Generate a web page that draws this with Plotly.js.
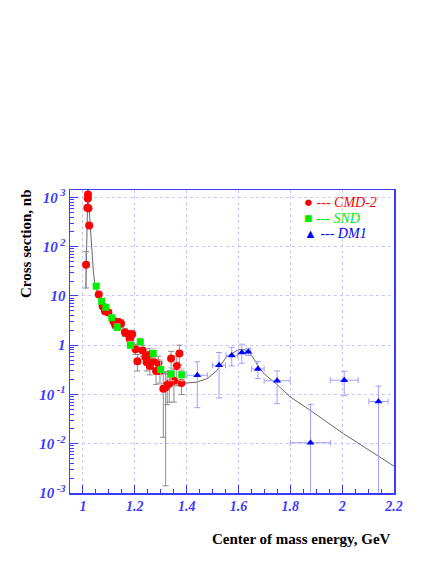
<!DOCTYPE html>
<html>
<head>
<meta charset="utf-8">
<script src="https://cdn.plot.ly/plotly-3.0.1.min.js"></script>
<style>
body {margin: 0; background: white;}
#graph {width: 436px; height: 564px;}
</style>
</head>
<body>
<div id="graph"></div>
<script>
// CMD-2 points (energy GeV, cross section nb, error bar ends)
var cmdX  = [1.012, 1.017, 1.019, 1.0195, 1.021, 1.024, 1.061, 1.076, 1.085, 1.098, 1.117, 1.124, 1.130, 1.136, 1.147,
             1.162, 1.175, 1.190, 1.181, 1.203, 1.210, 1.230, 1.241, 1.246, 1.256, 1.258, 1.271, 1.282, 1.291, 1.297,
             1.310, 1.319, 1.325, 1.333, 1.340, 1.351, 1.362, 1.372, 1.380];
var cmdY  = [43, 617, 955, 1150, 600, 270, 10.7, 6.2, 4.9, 4.6, 3.1, 2.6, 2.9, 2.95, 2.75,
             1.8, 1.66, 1.66, 1.32, 0.83, 0.47, 0.78, 0.57, 0.45, 0.63, 0.38, 0.47, 0.30, 0.43, 0.30,
             0.13, 0.14, 0.155, 0.165, 0.54, 0.19, 0.38, 0.68, 0.17];
var cmdHi = [79, 680, 1010, 1220, 650, 300, 12, 7, 5.6, 5.3, 3.6, 3.1, 3.4, 3.5, 3.3,
             2.2, 2.0, 2.0, 1.6, 1.05, 0.65, 1.0, 0.75, 0.6, 0.85, 0.55, 0.65, 0.45, 0.6, 0.45,
             0.26, 0.27, 0.29, 0.3, 0.75, 0.33, 0.6, 1.0, 0.3];
var cmdLo = [14.5, 560, 900, 1080, 560, 245, 9.5, 5.5, 4.3, 4.0, 2.7, 2.2, 2.4, 2.5, 2.3,
             1.5, 1.35, 1.35, 1.1, 0.65, 0.3, 0.6, 0.42, 0.3, 0.45, 0.25, 0.32, 0.16, 0.28, 0.17,
             0.0135, 0.0014, 0.062, 0.07, 0.25, 0.07, 0.15, 0.4, 0.1];

// SND points
var sndX  = [1.051, 1.072, 1.088, 1.111, 1.132, 1.183, 1.221, 1.271, 1.300, 1.340, 1.381];
var sndY  = [15.8, 7.8, 5.9, 3.6, 2.3, 1.0, 1.17, 0.68, 0.32, 0.26, 0.25];
var sndHi = [18, 8.7, 6.6, 4.1, 2.7, 1.2, 1.4, 0.85, 0.5, 0.35, 0.33];
var sndLo = [14, 7, 5.3, 3.2, 2.0, 0.85, 1.0, 0.55, 0.16, 0.19, 0.19];

// DM1 points
var dmX   = [1.441, 1.525, 1.574, 1.613, 1.638, 1.675, 1.749, 1.878, 2.008, 2.140];
var dmXe  = [0.04, 0.025, 0.022, 0.013, 0.009, 0.024, 0.05, 0.078, 0.054, 0.037];
var dmY   = [0.245, 0.39, 0.62, 0.71, 0.74, 0.33, 0.19, 0.0105, 0.195, 0.072];
var dmHi  = [0.46, 0.71, 0.91, 1.05, 0.87, 0.47, 0.30, 0.063, 0.295, 0.148];
var dmLo  = [0.054, 0.085, 0.38, 0.43, 0.62, 0.21, 0.065, 0.0003, 0.095, 0.0003];

// fit curve
var fitX = [1.011, 1.019, 1.028, 1.034, 1.040, 1.046, 1.06, 1.08, 1.10, 1.13, 1.16, 1.20, 1.23, 1.26, 1.30,
            1.35, 1.395, 1.44, 1.48, 1.515, 1.555, 1.60, 1.625, 1.645, 1.66, 1.683, 1.70, 1.748, 1.80, 1.876, 2.005, 2.2];
var fitY = [14, 1500, 275, 79, 32, 17, 10, 5.6, 4.0, 2.6, 1.8, 1.05, 0.71, 0.48, 0.33,
            0.20, 0.17, 0.178, 0.21, 0.30, 0.59, 0.81, 0.81, 0.69, 0.52, 0.33, 0.26, 0.16, 0.089, 0.048, 0.016, 0.0035];

var xTicks = [1, 1.2, 1.4, 1.6, 1.8, 2, 2.2];
var xTickText = ['1', '1.2', '1.4', '1.6', '1.8', '2', '2.2'];
var yTicks = [0.001, 0.01, 0.1, 1, 10, 100, 1000];
var yTickText = ['10<sup> -3</sup>', '10<sup> -2</sup>', '10<sup> -1</sup>', '1', '10', '10<sup> 2</sup>', '10<sup> 3</sup>'];

function diff(a, b) {
    var out = [];
    for (var i = 0; i < a.length; i++) out.push(Math.abs(a[i] - b[i]));
    return out;
}

var yMinor = [];
for (var k = -3; k < 3; k++) {
    for (var m = 2; m < 10; m++) yMinor.push(m * Math.pow(10, k));
}
var xMinor = [];
for (var v = 0.95; v < 2.2; v += 0.05) xMinor.push(Math.round(v * 100) / 100);

var blue = '#3c3cff';
var serif = 'Liberation Serif, Times New Roman, serif';

function legendLine(glyph, gsize, label, color, y) {
    return {
        text: '<span style="font-style:normal;font-size:' + gsize + 'px">' + glyph + '</span> --- ' + label,
        xref: 'paper', yref: 'paper', x: 0.72, y: y,
        xanchor: 'left', yanchor: 'middle', showarrow: false, borderpad: 0,
        font: {family: serif, size: 14, color: color, style: 'italic'}
    };
}

Plotly.newPlot('graph', [{
    x: fitX,
    y: fitY,
    mode: 'lines',
    line: {color: '#555555', width: 0.9},
    showlegend: false,
    hoverinfo: 'skip'
}, {
    x: cmdX,
    y: cmdY,
    mode: 'markers',
    name: 'CMD-2',
    marker: {color: '#ff0000', size: 8, symbol: 'circle'},
    error_y: {type: 'data', symmetric: false, array: diff(cmdHi, cmdY), arrayminus: diff(cmdY, cmdLo),
              color: '#8c8c8c', thickness: 1, width: 3},
    showlegend: false
}, {
    x: sndX,
    y: sndY,
    mode: 'markers',
    name: 'SND',
    marker: {color: '#00ee00', size: 7, symbol: 'square'},
    error_y: {type: 'data', symmetric: false, array: diff(sndHi, sndY), arrayminus: diff(sndY, sndLo),
              color: '#c4c4c4', thickness: 1, width: 3},
    showlegend: false
}, {
    x: dmX,
    y: dmY,
    mode: 'markers',
    name: 'DM1',
    marker: {color: '#0000ff', size: 7, symbol: 'triangle-up'},
    error_x: {type: 'data', array: dmXe, color: '#a0a0ff', thickness: 1, width: 3},
    error_y: {type: 'data', symmetric: false, array: diff(dmHi, dmY), arrayminus: diff(dmY, dmLo),
              color: '#a0a0ff', thickness: 1, width: 3},
    showlegend: false
}], {
    width: 436,
    height: 564,
    margin: {l: 70, r: 42, t: 190, b: 71},
    paper_bgcolor: 'white',
    plot_bgcolor: 'white',
    xaxis: {
        range: [0.95, 2.2],
        tickmode: 'array',
        tickvals: xTicks,
        ticktext: xTickText,
        tickfont: {family: serif, size: 14, color: blue, weight: 'bold', style: 'italic'},
        ticks: 'inside',
        ticklen: 8,
        tickcolor: blue,
        showline: true,
        linecolor: blue,
        linewidth: 1.5,
        mirror: true,
        showgrid: true,
        gridcolor: '#c8c8ff',
        griddash: 'dot',
        zeroline: false,
        minor: {tickmode: 'array', tickvals: xMinor, ticks: 'inside', ticklen: 4, tickcolor: blue, showgrid: false}
    },
    yaxis: {
        type: 'log',
        range: [-3, 3.15],
        tickmode: 'array',
        tickvals: yTicks,
        ticktext: yTickText,
        tickfont: {family: serif, size: 15, color: blue, weight: 'bold', style: 'italic'},
        ticks: 'inside',
        ticklen: 8,
        tickcolor: blue,
        showline: true,
        linecolor: blue,
        linewidth: 1.5,
        mirror: true,
        showgrid: true,
        gridcolor: '#c8c8ff',
        griddash: 'dot',
        zeroline: false,
        minor: {tickmode: 'array', tickvals: yMinor, ticks: 'inside', ticklen: 4, tickcolor: blue, showgrid: false}
    },
    annotations: [{
        text: 'Cross section, nb',
        xref: 'paper', yref: 'paper', x: -0.136, y: 0.825,
        xanchor: 'center', yanchor: 'middle', textangle: -90, showarrow: false,
        font: {family: serif, size: 15, color: 'black', weight: 'bold'}
    }, {
        text: 'Center of mass energy, GeV',
        xref: 'paper', yref: 'paper', x: 0.997, y: -0.152,
        xanchor: 'right', yanchor: 'middle', showarrow: false,
        font: {family: serif, size: 15, color: 'black', weight: 'bold'}
    },
    legendLine('●', 15, 'CMD-2', '#ff0000', 0.959),
    legendLine('■', 14, 'SND', '#00ee00', 0.906),
    legendLine('▲', 13, 'DM1', '#0000ff', 0.855)]
}, {displayModeBar: false, staticPlot: true});
</script>
</body>
</html>
